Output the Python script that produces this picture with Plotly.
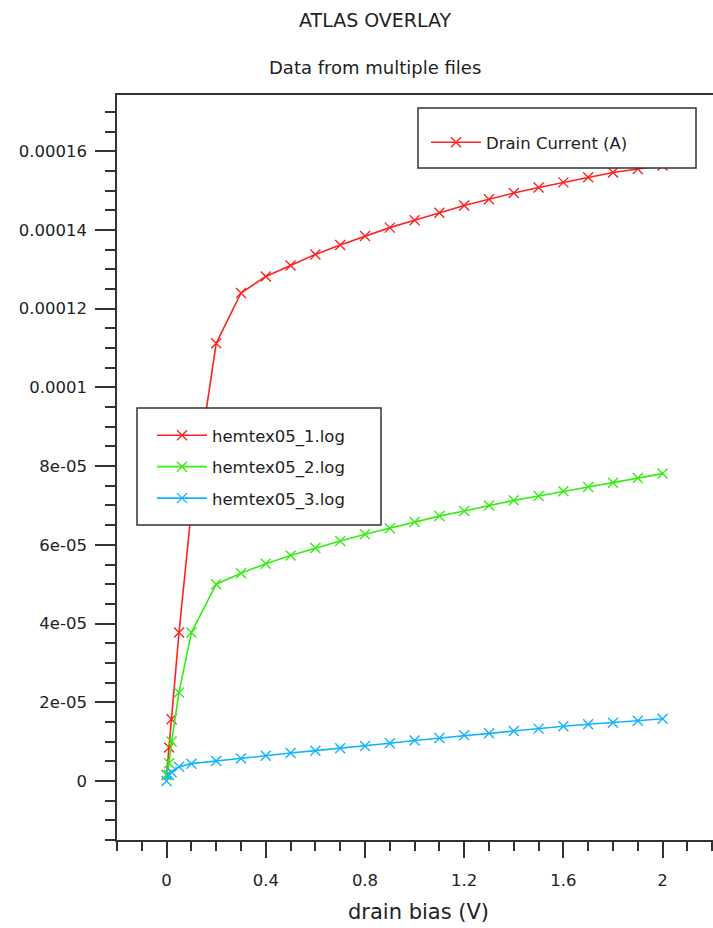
import plotly.graph_objects as go

# ---- data ----
drain_bias = [0, 0.01, 0.02, 0.05, 0.1, 0.2, 0.3, 0.4, 0.5, 0.6, 0.7, 0.8, 0.9, 1.0,
              1.1, 1.2, 1.3, 1.4, 1.5, 1.6, 1.7, 1.8, 1.9, 2.0]
current_1 = [1.5e-6, 8.5e-6, 1.57e-5, 3.77e-5, 6.9e-5, 1.112e-4, 1.24e-4, 1.282e-4, 1.31e-4,
             1.338e-4, 1.362e-4, 1.385e-4, 1.406e-4, 1.425e-4, 1.444e-4, 1.462e-4, 1.478e-4,
             1.494e-4, 1.508e-4, 1.521e-4, 1.534e-4, 1.546e-4, 1.555e-4, 1.564e-4]
current_2 = [1.5e-6, 4.5e-6, 1.0e-5, 2.25e-5, 3.77e-5, 5.0e-5, 5.28e-5, 5.52e-5, 5.73e-5,
             5.92e-5, 6.1e-5, 6.27e-5, 6.42e-5, 6.58e-5, 6.73e-5, 6.86e-5, 7.0e-5, 7.13e-5,
             7.24e-5, 7.36e-5, 7.47e-5, 7.58e-5, 7.7e-5, 7.81e-5]
current_3 = [0, 1.5e-6, 2.2e-6, 3.6e-6, 4.4e-6, 5.1e-6, 5.7e-6, 6.4e-6, 7.1e-6, 7.7e-6,
             8.3e-6, 8.9e-6, 9.6e-6, 1.03e-5, 1.09e-5, 1.16e-5, 1.21e-5, 1.27e-5, 1.33e-5,
             1.39e-5, 1.44e-5, 1.48e-5, 1.53e-5, 1.58e-5]
series_names = ["hemtex05_1.log", "hemtex05_2.log", "hemtex05_3.log"]
series_colors = ["#ff2222", "#33ee11", "#11b4ff"]
quantity_name = "Drain Current (A)"

x_tickvals = [0, 0.4, 0.8, 1.2, 1.6, 2.0]
x_ticktext = ["0", "0.4", "0.8", "1.2", "1.6", "2"]
y_tickvals = [0, 2e-5, 4e-5, 6e-5, 8e-5, 1e-4, 1.2e-4, 1.4e-4, 1.6e-4]
y_ticktext = ["0", "2e-05", "4e-05", "6e-05", "8e-05", "0.0001", "0.00012", "0.00014", "0.00016"]

FONT = "DejaVu Sans"
AX = "#333333"
TXT = "#222222"

fig = go.Figure()
for i, (name, ys, col) in enumerate(zip(series_names, [current_1, current_2, current_3], series_colors)):
    fig.add_trace(go.Scatter(
        x=drain_bias, y=ys, name=name, mode="lines+markers",
        line=dict(color=col, width=1.6),
        marker=dict(symbol="x-thin", size=10, line=dict(color=col, width=1.4), color=col),
        legend="legend", legendgroup=f"g{i}",
    ))
# quantity legend entry
fig.add_trace(go.Scatter(
    x=[None], y=[None], name=quantity_name, mode="lines+markers",
    line=dict(color=series_colors[0], width=1.6),
    marker=dict(symbol="x-thin", size=10, line=dict(color=series_colors[0], width=1.4)),
    legend="legend2",
))

W, H = 713, 928
ML, MR, MT, MB = 117, 0, 95, 88
PW, PH = W - ML - MR, H - MT - MB

def px_x(p):
    return (p - ML) / PW

def px_y(p):
    return (H - MB - p) / PH

fig.update_layout(
    width=W, height=H,
    margin=dict(l=ML, r=MR, t=MT, b=MB, pad=0),
    paper_bgcolor="white", plot_bgcolor="white",
    font=dict(family=FONT, color=TXT, size=15),
    showlegend=True,
    legend=dict(
        x=px_x(152), y=px_y(418), xanchor="left", yanchor="top",
        bgcolor="rgba(0,0,0,0)", borderwidth=0,
        font=dict(family=FONT, size=16.5, color=TXT),
        itemwidth=50, tracegroupgap=7, traceorder="grouped",
    ),
    legend2=dict(
        x=px_x(426), y=px_y(125), xanchor="left", yanchor="top",
        bgcolor="rgba(0,0,0,0)", borderwidth=0,
        font=dict(family=FONT, size=16.5, color=TXT),
        itemwidth=50,
    ),
    xaxis=dict(
        range=[-0.2, (W - MR - ML) / 248.0 - 0.2], showgrid=False, zeroline=False,
        showline=True, linecolor=AX, linewidth=1.5, mirror=True,
        tickmode="array", tickvals=x_tickvals, ticktext=x_ticktext,
        ticks="outside", ticklen=16, tickwidth=1.5, tickcolor=AX,
        ticklabelstandoff=8,
        tickfont=dict(family=FONT, size=16.5, color=TXT),
        minor=dict(tickmode="linear", tick0=0, dtick=0.1, ticks="outside",
                   ticklen=9, tickwidth=1.5, tickcolor=AX, showgrid=False),
    ),
    yaxis=dict(
        range=[-1.5e-5, 1.743e-4], showgrid=False, zeroline=False,
        showline=True, linecolor=AX, linewidth=1.5, mirror=False,
        tickmode="array", tickvals=y_tickvals, ticktext=y_ticktext,
        ticks="outside", ticklen=20, tickwidth=1.5, tickcolor=AX,
        ticklabelstandoff=5,
        tickfont=dict(family=FONT, size=16.5, color=TXT),
        minor=dict(tickmode="linear", tick0=0, dtick=5e-6, ticks="outside",
                   ticklen=10, tickwidth=1.5, tickcolor=AX, showgrid=False),
    ),
    shapes=[
        dict(type="rect", xref="paper", yref="paper",
             x0=px_x(137), x1=px_x(381), y0=px_y(525), y1=px_y(408),
             fillcolor="white", line=dict(color=AX, width=1.5), layer="above"),
        dict(type="rect", xref="paper", yref="paper",
             x0=px_x(418), x1=px_x(696), y0=px_y(168), y1=px_y(108),
             fillcolor="white", line=dict(color=AX, width=1.5), layer="above"),
    ],
    annotations=[
        dict(text="ATLAS OVERLAY", xref="paper", yref="paper", x=px_x(375), y=px_y(20),
             xanchor="center", yanchor="middle", showarrow=False,
             font=dict(family=FONT, size=19, color=TXT)),
        dict(text="Data from multiple files", xref="paper", yref="paper", x=px_x(375), y=px_y(68),
             xanchor="center", yanchor="middle", showarrow=False,
             font=dict(family=FONT, size=18, color=TXT)),
        dict(text="drain bias (V)", xref="paper", yref="paper", x=px_x(418), y=px_y(912),
             xanchor="center", yanchor="middle", showarrow=False,
             font=dict(family=FONT, size=21, color=TXT)),
    ],
)

fig.write_html("out.html")
